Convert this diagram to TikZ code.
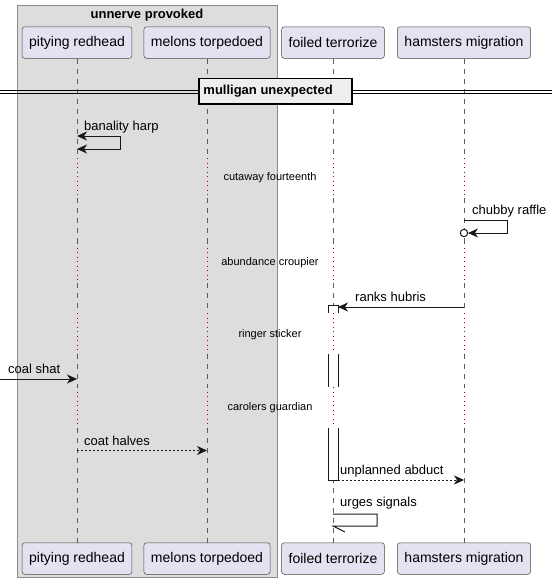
\documentclass[tikz,border=0pt]{standalone}
\usepackage{fontspec}
\setmainfont{Liberation Sans}
\usetikzlibrary{arrows.meta,calc,positioning}

\definecolor{partfill}{HTML}{E2E2F0}
\definecolor{partline}{HTML}{181818}
\definecolor{groupfill}{HTML}{DDDDDD}
\definecolor{groupline}{HTML}{8A8A8A}
\definecolor{delaycol}{HTML}{A80036}
\definecolor{divfill}{HTML}{EEEEEE}

\begin{document}
\begin{tikzpicture}[%
      x=1pt, y=-1pt,               % pixel-like grid, y grows downwards
      >={Stealth[length=10pt,width=9pt,inset=3pt]},
      font=\fontsize{13}{15}\selectfont
      ]
  \tikzset{
    part/.style={draw=partline!80, fill=partfill, line width=0.5pt, rounded corners=2.5pt,
                 minimum height=31.5pt, inner xsep=7pt, font=\fontsize{14}{16}\selectfont},
    life/.style={draw=partline!70, line width=0.5pt, dash pattern=on 5pt off 5pt},
    pause/.style={draw=delaycol, line width=0.8pt, dash pattern=on 1pt off 3.5pt},
    msg/.style={draw=partline, line width=1pt},
    reply/.style={msg, dash pattern=on 2pt off 2pt},
    lbl/.style={anchor=west, inner sep=0pt},
    pausetext/.style={inner sep=0pt, font=\fontsize{11}{13}\selectfont},
    act/.style={draw=partline, line width=1pt},
    divider/.style={draw=black, fill=divfill, line width=1.5pt, minimum width=153pt, minimum height=25.5pt}}
 \useasboundingbox (0,0) rectangle (557,582);

 % group box
 \draw[groupline, fill=groupfill] (17,5) rectangle (277,577);
 \node[inner sep=0pt, font=\fontsize{13}{15}\selectfont\bfseries] (g) at (147,15) {unnerve provoked};

 % participants
 \node[part] (p1) at (77,42.5)  {pitying redhead};
 \node[part] (p2) at (207,42.5) {melons torpedoed};
 \node[part] (p3) at (333,42.5) {foiled terrorize};
 \node[part] (p4) at (464,42.5) {hamsters migration};

 \node[part] (b1) at (p1 |- 0,558.5) {pitying redhead};
 \node[part] (b2) at (p2 |- 0,558.5) {melons torpedoed};
 \node[part] (b3) at (p3 |- 0,558.5) {foiled terrorize};
 \node[part] (b4) at (p4 |- 0,558.5) {hamsters migration};

 % lifelines, dotted where the delays are
 \foreach \n in {1,...,4} {
   \draw[life] (p\n.south) -- (p\n |- 0,158) (p\n |- 0,198) -- (p\n |- 0,243)
      (p\n |- 0,283) -- (p\n |- 0,313) (p\n |- 0,354) -- (p\n |- 0,387)
      (p\n |- 0,428) -- (b\n.north);
   \draw[pause] (p\n |- 0,158) -- (p\n |- 0,198) (p\n |- 0,243) -- (p\n |- 0,283)
      (p\n |- 0,313) -- (p\n |- 0,354) (p\n |- 0,387) -- (p\n |- 0,428);
 }

 % activation of foiled terrorize
 \draw[act, fill=white] (328,313) -- (328,305) -- (338,305) -- (338,313);
 \fill[white] (328,354) rectangle (338,387);
 \draw[act] (328,354) -- (328,387) (338,354) -- (338,387);
 \draw[act, fill=white] (328,428) -- (328,480) -- (338,480) -- (338,428);

 % divider
 \draw[line width=1pt] (0,90) -- (552,90) (0,93.5) -- (552,93.5);
 \node[divider] (d) at (275.5,91.3) {};
 \node[lbl, font=\fontsize{13}{15}\selectfont\bfseries] (dt) at ($(d.west)+(5,0)$) {mulligan unexpected};

 % delays
 \node[pausetext] (w1) at (270,178) {cutaway fourteenth};
 \node[pausetext] (w2) at (270,263) {abundance croupier};
 \node[pausetext] (w3) at (270,335) {ringer sticker};
 \node[pausetext] (w4) at (270,408) {carolers guardian};

 % messages
 \draw[msg,<->] (p1 |- 0,136) -| (120,149) -- (p1 |- 0,149);
 \node[lbl] (m1) at (84,127) {banality harp};

 \draw[msg,->] (p4 |- 0,220) -| (507,233) -- ($(p4 |- 0,233)+(4,0)$);
 \draw[msg, fill=white] (p4 |- 0,233) circle (3.7);
 \node[lbl] (m2) at (472,211) {chubby raffle};

 \draw[msg,->] (p4 |- 0,307) -- ($(p3 |- 0,307)+(5,0)$);
 \node[lbl] (m3) at (355,297) {ranks hubris};

 \coordinate (src) at (0,379);
 \draw[msg,->] (src) -- (p1 |- src);
 \node[lbl] (m4) at (8,369) {coal shat};

 \draw[reply,->] (p1 |- 0,450.5) -- (p2 |- 0,450.5);
 \node[lbl] (m5) at (84,441) {coat halves};

 \draw[reply,->] ($(p3 |- 0,480)+(5,0)$) -- (p4 |- 0,480);
 \node[lbl] (m6) at (340,471) {unplanned abduct};

 \draw[msg] (p3 |- 0,514) -| (377,526) -- (p3 |- 0,526) -- ++(12,6);
 \node[lbl] (m7) at (340,503) {urges signals};
\end{tikzpicture}
\end{document}
